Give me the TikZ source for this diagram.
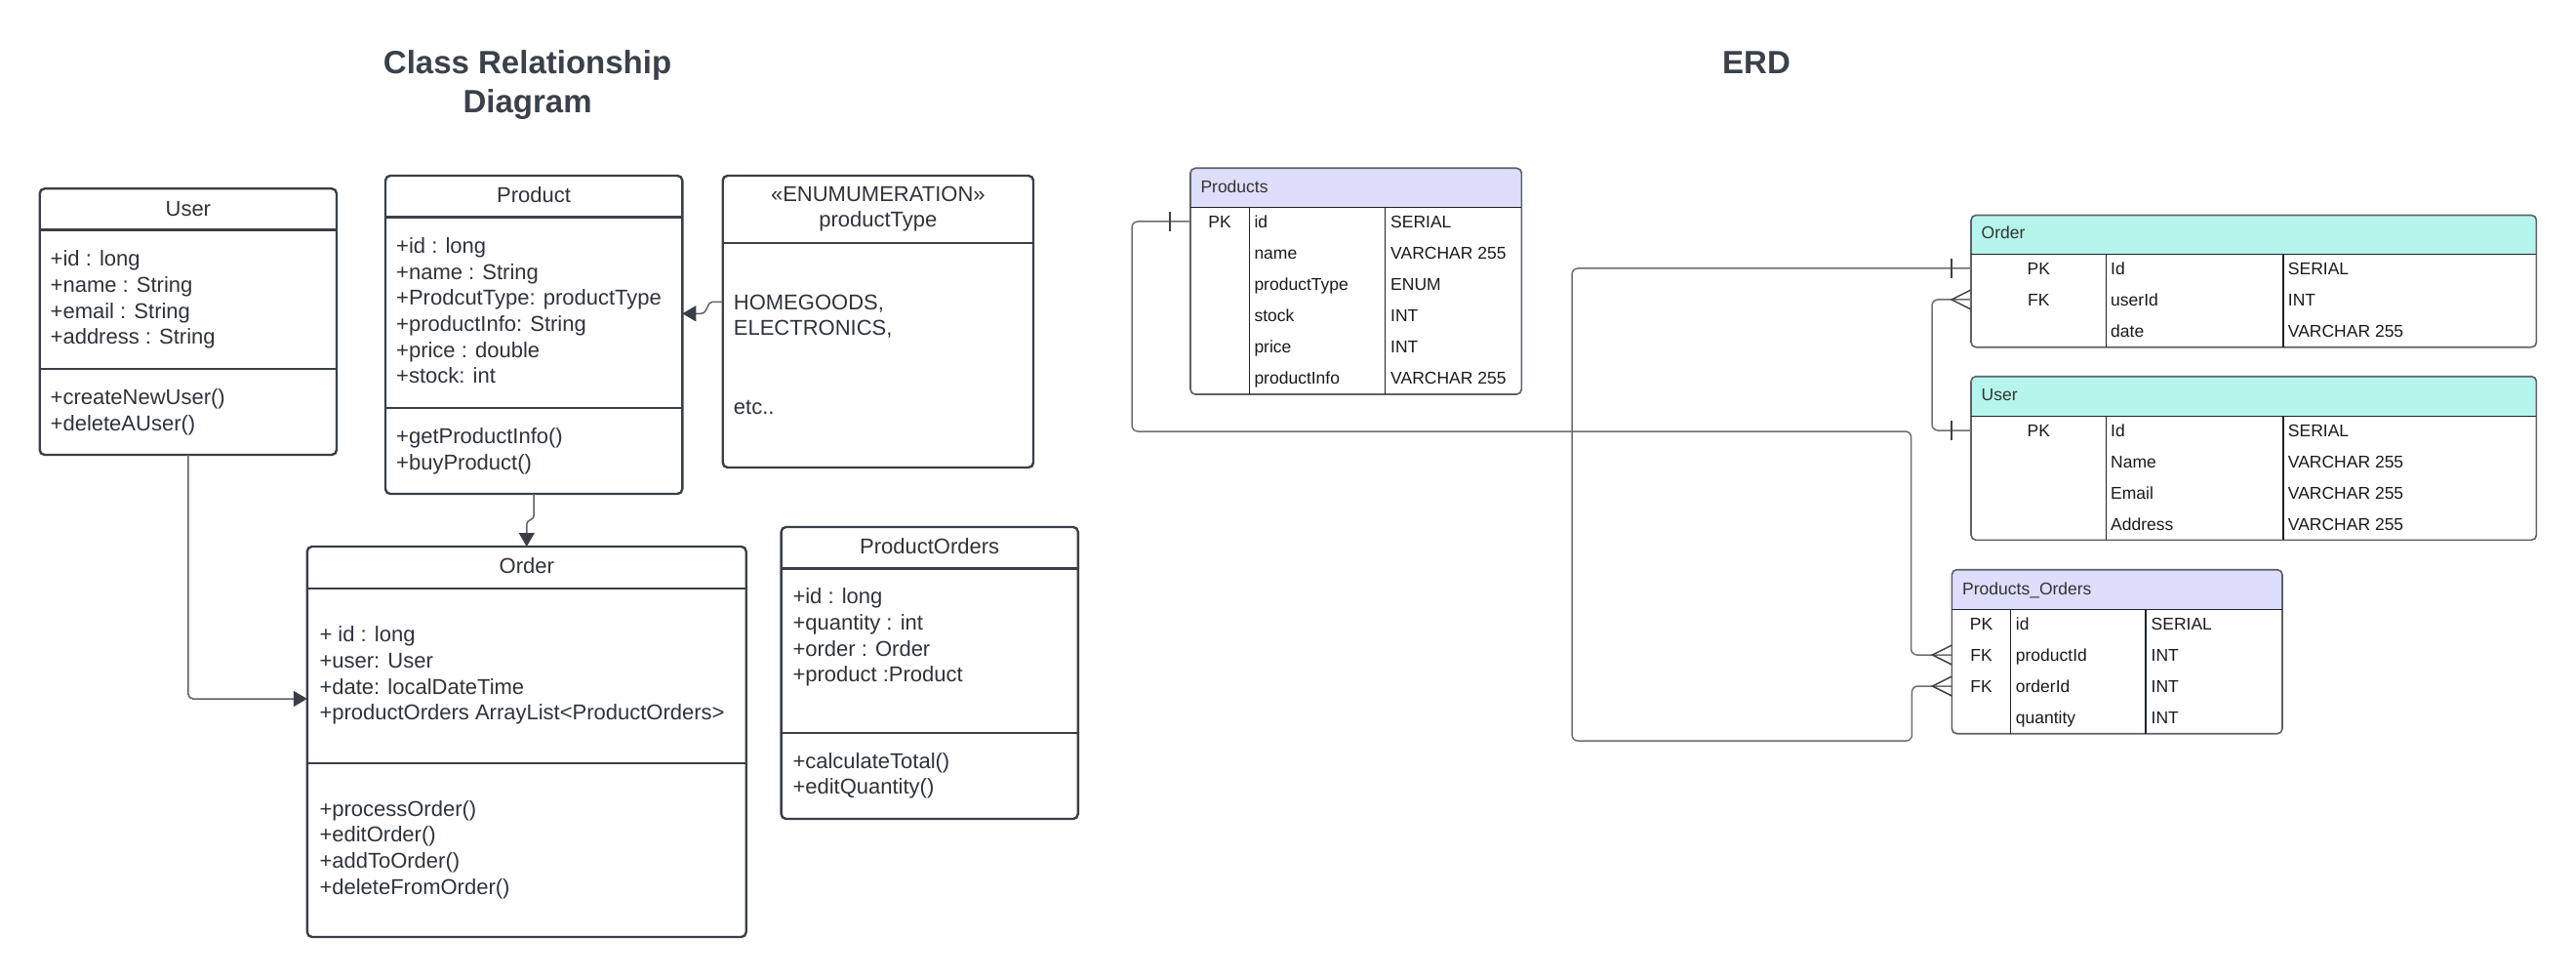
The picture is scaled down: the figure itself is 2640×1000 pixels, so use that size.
\documentclass[tikz,border=0pt]{standalone}
\usepackage{fontspec}
\setmainfont{Liberation Sans}
\usetikzlibrary{arrows.meta,calc}
\definecolor{clsline}{HTML}{3A3F47}
\definecolor{clsconnc}{HTML}{5F636B}
\definecolor{clstext}{HTML}{2E333B}
\definecolor{titlec}{HTML}{3A414A}
\definecolor{erdborder}{HTML}{5E6167}
\definecolor{erddiv}{HTML}{1F2226}
\definecolor{erdconnc}{HTML}{6B6E75}
\definecolor{erdmarkc}{HTML}{3E4147}
\definecolor{erdtext}{HTML}{1A1A1A}
\definecolor{erdheadtext}{HTML}{333333}
\definecolor{lavender}{HTML}{DDDDFC}
\definecolor{mint}{HTML}{B5F5EC}
\begin{document}
\begin{tikzpicture}[x=1pt,y=-1pt,
  bigtitle/.style={anchor=base, inner sep=0pt, font=\bfseries\fontsize{33}{39}\selectfont, text=titlec},
  clsbox/.style={draw=clsline, line width=2.4pt, rounded corners=5pt, anchor=north west, inner sep=0pt, outer sep=0pt},
  clsdiv/.style={draw=clsline, line width=2.4pt},
  clstxt/.style={anchor=west, inner sep=0pt, text height=15.8pt, text depth=0pt, font=\fontsize{22}{26}\selectfont, text=clstext},
  clsttl/.style={clstxt, anchor=center},
  clsconn/.style={draw=clsconnc, line width=1.5pt, rounded corners=5pt},
  clsarrow/.style={-{Triangle[length=14pt,width=16pt,fill=clsline,color=clsline]}},
  erdbox/.style={draw=erdborder, line width=1.6pt, rounded corners=5pt, anchor=north west, inner sep=0pt, outer sep=0pt},
  erddiv/.style={draw=erddiv, line width=1.4pt},
  erdtxt/.style={anchor=west, inner sep=0pt, text height=12.6pt, text depth=0pt, font=\fontsize{17.5}{21}\selectfont, text=erdtext},
  erdkey/.style={erdtxt, anchor=center},
  erdhead/.style={erdtxt, text=erdheadtext},
  erdconn/.style={draw=erdconnc, line width=1.5pt, rounded corners=6pt},
  erdmark/.style={draw=erdmarkc, line width=1.5pt}
]
\useasboundingbox (0,0) rectangle (2640,1000);

% ---------- titles ----------
\node[bigtitle] (title1) at (540.6,75.7) {Class Relationship};
\node[bigtitle] (title2) at (540.6,116) {Diagram};
\node[bigtitle] (title3) at (1800,75.7) {ERD};

% ---------- User class ----------
\node[clsbox, minimum width=304.3pt, minimum height=272.7pt] (user) at (40.7,193.3) {};
\draw[clsdiv] (40.7,235.7) -- (345,235.7);
\draw[clsdiv] (40.7,378) -- (345,378);
\node[clsttl] (userT) at (192.85,213.5) {User};
\node[clstxt] (u1) at (51.5,265) {+id : long};
\node[clstxt] (u2) at (51.5,291.7) {+name : String};
\node[clstxt] (u3) at (51.5,318.3) {+email : String};
\node[clstxt] (u4) at (51.5,345) {+address : String};
\node[clstxt] (u5) at (51.5,406.7) {+createNewUser()};
\node[clstxt] (u6) at (51.5,433.3) {+deleteAUser()};

% ---------- Product class ----------
\node[clsbox, minimum width=304.3pt, minimum height=326pt] (product) at (395,180) {};
\draw[clsdiv] (395,222.7) -- (699.3,222.7);
\draw[clsdiv] (395,417.7) -- (699.3,417.7);
\node[clsttl] (productT) at (547.15,200) {Product};
\node[clstxt] (p1) at (406,251.7) {+id : long};
\node[clstxt] (p2) at (406,278.3) {+name : String};
\node[clstxt] (p3) at (406,305) {+ProdcutType: productType};
\node[clstxt] (p4) at (406,331.7) {+productInfo: String};
\node[clstxt] (p5) at (406,358.3) {+price : double};
\node[clstxt] (p6) at (406,385) {+stock: int};
\node[clstxt] (p7) at (406,446.7) {+getProductInfo()};
\node[clstxt] (p8) at (406,473.3) {+buyProduct()};

% ---------- Enumeration ----------
\node[clsbox, minimum width=318.3pt, minimum height=299pt] (enum) at (740.7,180) {};
\draw[clsdiv] (740.7,249) -- (1059,249);
\node[clsttl] (enumT1) at (899.85,199) {«ENUMUMERATION»};
\node[clsttl] (enumT2) at (899.85,224.5) {productType};
\node[clstxt] (e1) at (751.7,309.3) {HOMEGOODS,};
\node[clstxt] (e2) at (751.7,336) {ELECTRONICS,};
\node[clstxt] (e3) at (751.7,416.7) {etc..};

% ---------- Order class ----------
\node[clsbox, minimum width=449.9pt, minimum height=400pt] (order) at (314.8,560) {};
\draw[clsdiv] (314.8,602.7) -- (764.7,602.7);
\draw[clsdiv] (314.8,781.7) -- (764.7,781.7);
\node[clsttl] (orderT) at (539.75,580) {Order};
\node[clstxt] (o1) at (327.3,650) {+ id : long};
\node[clstxt] (o2) at (327.3,676.7) {+user: User};
\node[clstxt] (o3) at (327.3,703.3) {+date: localDateTime};
\node[clstxt] (o4) at (327.3,730) {+productOrders ArrayList<ProductOrders>};
\node[clstxt] (o5) at (327.3,828.3) {+processOrder()};
\node[clstxt] (o6) at (327.3,855) {+editOrder()};
\node[clstxt] (o7) at (327.3,881.7) {+addToOrder()};
\node[clstxt] (o8) at (327.3,908.3) {+deleteFromOrder()};

% ---------- ProductOrders class ----------
\node[clsbox, minimum width=304.2pt, minimum height=299pt] (porders) at (800.6,540) {};
\draw[clsdiv] (800.6,582.3) -- (1104.8,582.3);
\draw[clsdiv] (800.6,750.7) -- (1104.8,750.7);
\node[clsttl] (pordersT) at (952.7,560) {ProductOrders};
\node[clstxt] (q1) at (812.3,611) {+id : long};
\node[clstxt] (q2) at (812.3,637.7) {+quantity : int};
\node[clstxt] (q3) at (812.3,664.3) {+order : Order};
\node[clstxt] (q4) at (812.3,691) {+product :Product};
\node[clstxt] (q5) at (812.3,779.3) {+calculateTotal()};
\node[clstxt] (q6) at (812.3,806) {+editQuantity()};

% ---------- class connectors ----------
\draw[clsconn, clsarrow] (user.south) |- ($(order.north west)+(0,156)$);
\draw[clsconn, clsarrow, sharp corners] (product.south) -- (547.15,527)
  .. controls (547.15,535) and (539.75,530) .. (539.75,539) -- (order.north);
\draw[clsconn, clsarrow, sharp corners] ($(enum.north west)+(0,129.3)$) -- (730,309.3)
  .. controls (724,309.3) and (726,321.3) .. (718,321.3) -- ($(product.north east)+(0,141.3)$);

% ---------- ERD: Products ----------
\fill[lavender, rounded corners=5pt] (1220,172.3) rectangle (1559.3,212.3);
\fill[lavender] (1220,200) rectangle (1559.3,212.3);
\node[erdbox, minimum width=339.3pt, minimum height=231.7pt] (products) at (1220,172.3) {};
\draw[erddiv] (1220,212.3) -- (1559.3,212.3);
\draw[erddiv] (1280.3,212.3) -- (1280.3,404);
\draw[erddiv] (1419.3,212.3) -- (1419.3,404);
\node[erdhead] (prodH) at (1230.3,191) {Products};
\node[erdkey] (pPK) at (1250.15,227) {PK};
\node[erdtxt] (pn1) at (1285.3,227) {id};
\node[erdtxt] (pn2) at (1285.3,259) {name};
\node[erdtxt] (pn3) at (1285.3,291) {productType};
\node[erdtxt] (pn4) at (1285.3,323) {stock};
\node[erdtxt] (pn5) at (1285.3,355) {price};
\node[erdtxt] (pn6) at (1285.3,387) {productInfo};
\node[erdtxt] (pt1) at (1425,227) {SERIAL};
\node[erdtxt] (pt2) at (1425,259) {VARCHAR 255};
\node[erdtxt] (pt3) at (1425,291) {ENUM};
\node[erdtxt] (pt4) at (1425,323) {INT};
\node[erdtxt] (pt5) at (1425,355) {INT};
\node[erdtxt] (pt6) at (1425,387) {VARCHAR 255};

% ---------- ERD: Order ----------
\fill[mint, rounded corners=5pt] (2020,220.5) rectangle (2599.4,260.5);
\fill[mint] (2020,248) rectangle (2599.4,260.5);
\node[erdbox, minimum width=579.4pt, minimum height=135.2pt] (eorder) at (2020,220.5) {};
\draw[erddiv] (2020,260.5) -- (2599.4,260.5);
\draw[erddiv] (2158.5,260.5) -- (2158.5,355.7);
\draw[erddiv] (2340,260.5) -- (2340,355.7);
\node[erdhead] (eorderH) at (2030.5,238.5) {Order};
\node[erdkey] (oPK) at (2089.25,275) {PK};
\node[erdkey] (oFK) at (2089.25,307) {FK};
\node[erdtxt] (on1) at (2163,275) {Id};
\node[erdtxt] (on2) at (2163,307) {userId};
\node[erdtxt] (on3) at (2163,339) {date};
\node[erdtxt] (ot1) at (2344.7,275) {SERIAL};
\node[erdtxt] (ot2) at (2344.7,307) {INT};
\node[erdtxt] (ot3) at (2344.7,339) {VARCHAR 255};

% ---------- ERD: User ----------
\fill[mint, rounded corners=5pt] (2020,385.7) rectangle (2599.4,426.7);
\fill[mint] (2020,414) rectangle (2599.4,426.7);
\node[erdbox, minimum width=579.4pt, minimum height=167.6pt] (euser) at (2020,385.7) {};
\draw[erddiv] (2020,426.7) -- (2599.4,426.7);
\draw[erddiv] (2158.5,426.7) -- (2158.5,553.3);
\draw[erddiv] (2340,426.7) -- (2340,553.3);
\node[erdhead] (euserH) at (2030.5,404.5) {User};
\node[erdkey] (uPK) at (2089.25,441) {PK};
\node[erdtxt] (un1) at (2163,441) {Id};
\node[erdtxt] (un2) at (2163,473) {Name};
\node[erdtxt] (un3) at (2163,505) {Email};
\node[erdtxt] (un4) at (2163,537) {Address};
\node[erdtxt] (ut1) at (2344.7,441) {SERIAL};
\node[erdtxt] (ut2) at (2344.7,473) {VARCHAR 255};
\node[erdtxt] (ut3) at (2344.7,505) {VARCHAR 255};
\node[erdtxt] (ut4) at (2344.7,537) {VARCHAR 255};

% ---------- ERD: Products_Orders ----------
\fill[lavender, rounded corners=5pt] (2000.4,583.7) rectangle (2339,624.3);
\fill[lavender] (2000.4,612) rectangle (2339,624.3);
\node[erdbox, minimum width=338.6pt, minimum height=168pt] (po) at (2000.4,583.7) {};
\draw[erddiv] (2000.4,624.3) -- (2339,624.3);
\draw[erddiv] (2060.6,624.3) -- (2060.6,751.7);
\draw[erddiv] (2199,624.3) -- (2199,751.7);
\node[erdhead] (poH) at (2011,603) {Products\_Orders};
\node[erdkey] (poPK) at (2030.5,639) {PK};
\node[erdkey] (poFK1) at (2030.5,671) {FK};
\node[erdkey] (poFK2) at (2030.5,703) {FK};
\node[erdtxt] (qn1) at (2065.7,639) {id};
\node[erdtxt] (qn2) at (2065.7,671) {productId};
\node[erdtxt] (qn3) at (2065.7,703) {orderId};
\node[erdtxt] (qn4) at (2065.7,735) {quantity};
\node[erdtxt] (qt1) at (2204.5,639) {SERIAL};
\node[erdtxt] (qt2) at (2204.5,671) {INT};
\node[erdtxt] (qt3) at (2204.5,703) {INT};
\node[erdtxt] (qt4) at (2204.5,735) {INT};

% ---------- ERD connectors ----------
% Products.id  ->  Products_Orders.productId
\draw[erdconn] (products.west |- pPK) -| (1160,442) -| ($(po.west |- poFK1)+(-41.8,0)$) -- (po.west |- poFK1);
% Order.Id  ->  Products_Orders.orderId
\draw[erdconn] (eorder.west |- oPK) -| (1611,759) -| ($(po.west |- poFK2)+(-41,0)$) -- (po.west |- poFK2);
% Order.userId  ->  User.Id
\draw[erdconn] (eorder.west |- oFK) -- ($(eorder.west |- oFK)+(-40,0)$) |- (euser.west |- uPK);

% one marks
\draw[erdmark] ($(products.west |- pPK)+(-21,-10)$) -- ++(0,20);
\draw[erdmark] ($(eorder.west |- oPK)+(-20,-10)$) -- ++(0,20);
\draw[erdmark] ($(euser.west |- uPK)+(-20,-10)$) -- ++(0,20);
% many marks (crow's feet)
\draw[erdmark] ($(po.west |- poFK1)+(0,-10)$) -- ++(-20,10) -- ++(20,10);
\draw[erdmark] ($(po.west |- poFK2)+(0,-10)$) -- ++(-20,10) -- ++(20,10);
\draw[erdmark] ($(eorder.west |- oFK)+(0,-10)$) -- ++(-20,10) -- ++(20,10);
\end{tikzpicture}
\end{document}
